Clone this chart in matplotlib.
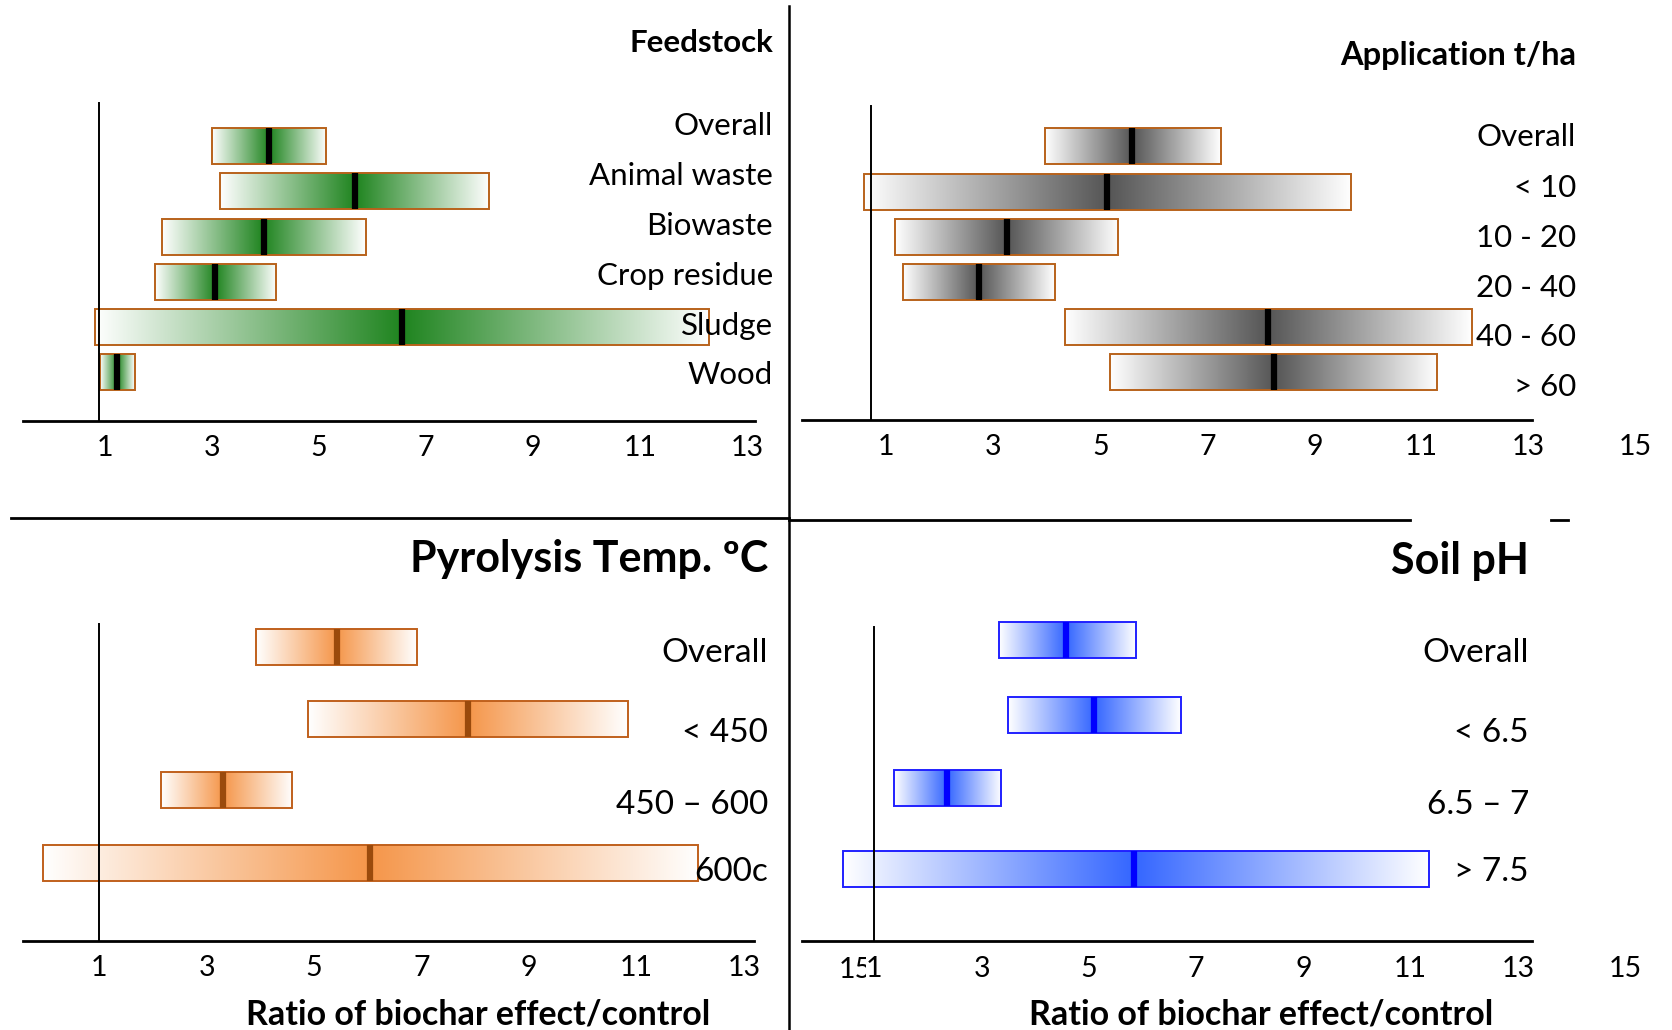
import matplotlib.pyplot as plt
import matplotlib.colors as mcolors
from matplotlib.patches import Rectangle
from matplotlib.lines import Line2D
import numpy as np

plt.rcParams['font.family'] = ['Lato', 'DejaVu Sans']

# ratio of biochar effect / control: lower bound, median, upper bound
feedstock_labels = ['Overall', 'Animal waste', 'Biowaste', 'Crop residue', 'Sludge', 'Wood']
feedstock_low = [3.00, 3.15, 2.08, 1.94, 0.82, 0.92]
feedstock_med = [4.07, 5.68, 3.97, 3.07, 6.56, 1.24]
feedstock_high = [5.14, 8.19, 5.88, 4.21, 12.30, 1.56]

application_labels = ['Overall', '< 10', '10 - 20', '20 - 40', '40 - 60', '> 60']
application_low = [3.97, 0.58, 1.16, 1.32, 4.35, 5.18]
application_med = [5.60, 5.13, 3.25, 2.73, 8.13, 8.25]
application_high = [7.25, 9.69, 5.34, 4.15, 11.94, 11.30]

pyrolysis_labels = ['Overall', '< 450', '450 \u2013 600', '600c']
pyrolysis_low = [3.92, 4.89, 2.15, -0.05]
pyrolysis_med = [5.42, 7.87, 3.30, 6.04]
pyrolysis_high = [6.91, 10.84, 4.59, 12.15]

ph_labels = ['Overall', '< 6.5', '6.5 \u2013 7', '> 7.5']
ph_low = [3.33, 3.49, 1.36, 0.42]
ph_med = [4.58, 5.10, 2.35, 5.85]
ph_high = [5.87, 6.71, 3.37, 11.34]

ticks_short = [1, 3, 5, 7, 9, 11, 13]
ticks_long = [1, 3, 5, 7, 9, 11, 13, 15]

W, H = 1672, 1030
fig = plt.figure(figsize=(W / 100, H / 100), dpi=100)


def make_axes(x0, x1, y0, y1, a, b):
    # x in ratio units (pixel = a + b * ratio), y in pixels from the top
    ax = fig.add_axes((x0 / W, 1 - y1 / H, (x1 - x0) / W, (y1 - y0) / H))
    ax.set_xlim((x0 - a) / b, (x1 - a) / b)
    ax.set_ylim(y1, y0)
    ax.patch.set_alpha(0)
    for side in ['top', 'right', 'left']:
        ax.spines[side].set_visible(False)
    ax.set_yticks([])
    return ax


def gradient_bar(ax, lo, med, hi, yc, h, color, edge, med_color):
    xs = np.linspace(lo, hi, 500)
    t = np.where(xs < med, (xs - lo) / (med - lo), (hi - xs) / (hi - med))
    rgb = np.array(mcolors.to_rgb(color))
    img = 1 - t[:, None] * (1 - rgb)
    ax.imshow(img[None, :, :], extent=(lo, hi, yc + h / 2, yc - h / 2),
              aspect='auto', interpolation='bilinear', zorder=2)
    ax.add_patch(Rectangle((lo, yc - h / 2), hi - lo, h, fill=False,
                           edgecolor=edge, lw=1.4, zorder=3))
    ax.plot([med, med], [yc - h / 2, yc + h / 2], color=med_color, lw=4.5,
            solid_capstyle='butt', zorder=4)


def draw_panel(box, a, b, axis_y, axis_px, vline_x, vline_top, ticks, tick_pad,
               labels, low, med, high, bar_y, label_x, label_y, label_size,
               color, edge, med_color):
    x0, x1, y0, y1 = box
    ax = make_axes(x0, x1, y0, y1, a, b)
    for lo, m, hi, yc in zip(low, med, high, bar_y):
        gradient_bar(ax, lo, m, hi, yc, 36, color, edge, med_color)
    ax.spines['bottom'].set_position(('data', axis_y))
    ax.spines['bottom'].set_bounds((axis_px[0] - a) / b, (axis_px[1] - a) / b)
    ax.spines['bottom'].set_linewidth(2.0)
    ax.plot([vline_x, vline_x], [vline_top, axis_y], color='black', lw=1.4, zorder=5)
    ax.set_xticks(ticks)
    ax.set_xticklabels([str(t) for t in ticks], fontsize=20.5)
    ax.tick_params(axis='x', length=0, pad=tick_pad)
    for lab, yl in zip(labels, label_y):
        ax.text((label_x - a) / b, yl, lab, ha='right', va='center',
                fontsize=label_size, zorder=6)
    ax.set_xlim((x0 - a) / b, (x1 - a) / b)
    ax.set_ylim(y1, y0)
    return ax


# Feedstock
ax1 = draw_panel((0, 789, 0, 518), 51.0, 53.53, 421, (23, 755), 0.90, 103, ticks_short, 10,
                 feedstock_labels, feedstock_low, feedstock_med, feedstock_high,
                 [146, 191, 237, 282, 327, 372], 773, [126, 176, 226, 276, 326, 375], 22.5,
                 '#1f841f', '#b8621b', 'black')
ax1.text((773 - 51.0) / 53.53, 43, 'Feedstock', ha='right', va='center',
         fontsize=22.5, fontweight='bold')

# Application rate
ax2 = draw_panel((789, W, 0, 518), 832.6, 53.53, 420, (802, 1532), 0.72, 106, ticks_long, 10,
                 application_labels, application_low, application_med, application_high,
                 [146, 192, 237, 282, 327, 372], 1576, [137, 188, 238, 288, 337, 387], 22.5,
                 '#555555', '#b8621b', 'black')
ax2.text((1576 - 832.6) / 53.53, 55, 'Application t/ha', ha='right', va='center',
         fontsize=23.5, fontweight='bold')

# Pyrolysis temperature
ax3 = draw_panel((0, 789, 518, H), 45.4, 53.74, 941, (23, 754), 1.0, 624, ticks_short, 10,
                 pyrolysis_labels, pyrolysis_low, pyrolysis_med, pyrolysis_high,
                 [647, 719, 790, 863], 768, [653, 733, 805, 872], 24,
                 '#f5964a', '#c0601c', '#9a4a0c')
ax3.text((768 - 45.4) / 53.74, 559, 'Pyrolysis Temp. \u00baC', ha='right', va='center',
         fontsize=31, fontweight='bold')
ax3.text((478 - 45.4) / 53.74, 1014, 'Ratio of biochar effect/control', ha='center',
         va='center', fontsize=24.5, fontweight='bold', clip_on=False)

# Soil pH
ax4 = draw_panel((789, W, 518, H), 820.7, 53.63, 941, (802, 1532), 1.0, 627, ticks_long, 11,
                 ph_labels, ph_low, ph_med, ph_high,
                 [640, 715, 788, 869], 1529, [653, 733, 805, 872], 24,
                 '#3466ff', '#2020ff', '#0000ff')
ax4.text((1529 - 820.7) / 53.63, 561, 'Soil pH', ha='right', va='center',
         fontsize=31, fontweight='bold')
ax4.text((1261 - 820.7) / 53.63, 1014, 'Ratio of biochar effect/control', ha='center',
         va='center', fontsize=24.5, fontweight='bold', clip_on=False)
ax4.text((855 - 820.7) / 53.63, 970, '15', ha='center', va='center', fontsize=20.5, zorder=1)
ax4.get_xticklabels()[0].set_bbox(dict(facecolor='white', edgecolor='none', pad=0))

# panel dividers
fig.add_artist(Line2D([789 / W, 789 / W], [1 - 6 / H, 0], color='black', lw=1.8))
fig.add_artist(Line2D([11 / W, 789 / W], [1 - 518 / H, 1 - 518 / H], color='black', lw=2.0))
fig.add_artist(Line2D([789 / W, 1410 / W], [1 - 520 / H, 1 - 520 / H], color='black', lw=2.0))
fig.add_artist(Line2D([1551 / W, 1568 / W], [1 - 520 / H, 1 - 520 / H], color='black', lw=2.0))

fig.savefig('out.png', dpi=100)
